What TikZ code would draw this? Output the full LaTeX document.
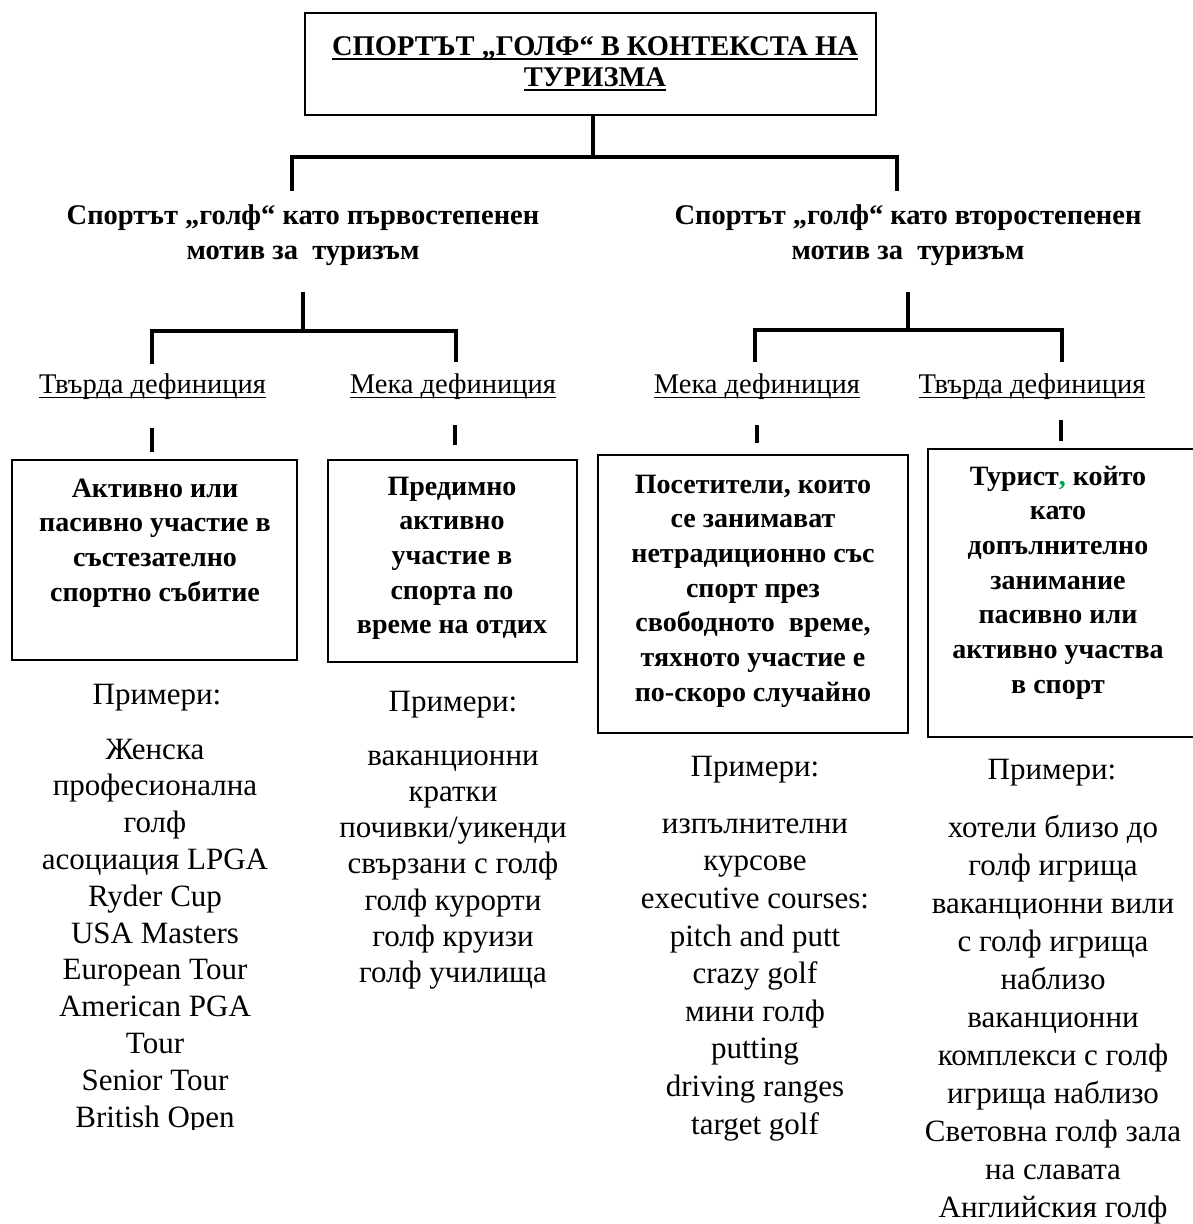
\documentclass[tikz,border=0pt]{standalone}
\usepackage{fontspec}
\setmainfont{Liberation Serif}[BoldFont={Liberation Serif Bold}]
\definecolor{commagreen}{RGB}{0,160,80}
\newcommand\myul[1]{\setbox0\hbox{#1}\rlap{\rule[-5pt]{\wd0}{1.8pt}}\box0}
\begin{document}
\begin{tikzpicture}[x=1pt,y=-1pt,
  conn/.style={line width=4pt},
  framebox/.style={draw, line width=1.8pt, inner sep=0pt},
  ttl/.style={font=\fontsize{28.5}{31}\selectfont\bfseries, align=center, anchor=north, inner sep=0pt},
  head/.style={font=\fontsize{28.5}{35}\selectfont\bfseries, align=center, anchor=north, inner sep=0pt},
  lab/.style={font=\fontsize{28.5}{33}\selectfont, align=center, anchor=north, inner sep=0pt},
  btxt/.style={font=\fontsize{28}{34.7}\selectfont\bfseries, align=center, anchor=north, inner sep=0pt},
  lst/.style={font=\fontsize{31}{#1}\selectfont, align=center, anchor=north, inner sep=0pt}
]
\useasboundingbox (0,0) rectangle (1193,1224);

% title
\node[framebox, minimum width=571pt, minimum height=102pt] (tbox) at (590.5,64) {};
\node[ttl] (ttext) at (595,33.3) {\strut\myul{СПОРТЪТ „ГОЛФ“ В КОНТЕКСТА НА}\\\myul{ТУРИЗМА}};

% headings
\node[head] (h1) at (303,199.5) {\strut Спортът „голф“ като първостепенен\\мотив за\ \ туризъм};
\node[head] (h2) at (908,199.5) {\strut Спортът „голф“ като второстепенен\\мотив за\ \ туризъм};

% labels
\node[lab] (l1) at (152.5,370) {\strut\myul{Твърда дефиниция}};
\node[lab] (l2) at (453,370) {\strut\myul{Мека дефиниция}};
\node[lab] (l3) at (757,370) {\strut\myul{Мека дефиниция}};
\node[lab] (l4) at (1032,370) {\strut\myul{Твърда дефиниция}};

% boxes
\node[framebox, minimum width=285pt, minimum height=200pt] (b1) at (154.5,560) {};
\node[framebox, minimum width=249pt, minimum height=202pt] (b2) at (452.5,561) {};
\node[framebox, minimum width=310pt, minimum height=278pt] (b3) at (753,594) {};
\node[framebox, minimum width=269pt, minimum height=288pt] (b4) at (1062.5,593) {};

\node[btxt] (t1) at (155,472.7) {\strut Активно или\\пасивно участие в\\състезателно\\спортно събитие};
\node[btxt] (t2) at (452,470.7) {\strut Предимно\\активно\\участие в\\спорта по\\време на отдих};
\node[btxt] (t3) at (753,468.7) {\strut Посетители, които\\се занимават\\нетрадиционно със\\спорт през\\свободното\ \ време,\\тяхното участие е\\по-скоро случайно};
\node[btxt] (t4) at (1058,460.7) {\strut Турист\textcolor{commagreen}{,} който\\като\\допълнително\\занимание\\пасивно или\\активно участва\\в спорт};

% examples
\node[lst=33] (p1) at (157,680.9) {\strut Примери:};
\node[lst=33] (p2) at (453,687.9) {\strut Примери:};
\node[lst=33] (p3) at (755,752.9) {\strut Примери:};
\node[lst=33] (p4) at (1052,755.9) {\strut Примери:};

\begin{scope}
\clip (0,0) rectangle (600,1129);
\node[lst=36.8] (e1) at (155,733.2) {\strut Женска\\професионална\\голф\\асоциация LPGA\\Ryder Cup\\USA Masters\\European Tour\\American PGA\\Tour\\Senior Tour\\British Open};
\end{scope}
\node[lst=36.2] (e2) at (453,739.7) {\strut ваканционни\\кратки\\почивки/уикенди\\свързани с голф\\голф курорти\\голф круизи\\голф училища};
\node[lst=37.6] (e3) at (755,806.7) {\strut изпълнителни\\курсове\\executive courses:\\pitch and putt\\crazy golf\\мини голф\\putting\\driving ranges\\target golf};
\node[lst=38] (e4) at (1053,810.4) {\strut хотели близо до\\голф игрища\\ваканционни вили\\с голф игрища\\наблизо\\ваканционни\\комплекси с голф\\игрища наблизо\\Световна голф зала\\на славата\\Английския голф};

% connectors
\coordinate (j0) at (593,157);
\coordinate (jl) at (292,157);
\coordinate (jr) at (897,157);
\coordinate (jld) at (292,191);
\coordinate (jrd) at (897,191);
\draw[conn] (j0 |- tbox.south) -- (j0);
\draw[conn] (jld) -- (jl) -- (jr) -- (jrd);

\coordinate (k0) at (303,292);
\coordinate (k1) at (303,331);
\coordinate (kl) at (152,331);
\coordinate (kld) at (152,364);
\coordinate (kr) at (456,331);
\coordinate (krd) at (456,362);
\draw[conn] (k0) -- (k1);
\draw[conn] (kld) -- (kl) -- (kr) -- (krd);

\coordinate (m0) at (908,292);
\coordinate (m1) at (908,330);
\coordinate (ml) at (755,330);
\coordinate (mld) at (755,362);
\coordinate (mr) at (1062,330);
\coordinate (mrd) at (1062,362);
\draw[conn] (m0) -- (m1);
\draw[conn] (mld) -- (ml) -- (mr) -- (mrd);

% ticks
\coordinate (s1a) at (152,428); \coordinate (s1b) at (152,452);
\coordinate (s2a) at (455,425); \coordinate (s2b) at (455,445);
\coordinate (s3a) at (757,425); \coordinate (s3b) at (757,443);
\coordinate (s4a) at (1061,420); \coordinate (s4b) at (1061,441);
\draw[conn] (s1a) -- (s1b);
\draw[conn] (s2a) -- (s2b);
\draw[conn] (s3a) -- (s3b);
\draw[conn] (s4a) -- (s4b);
\end{tikzpicture}
\end{document}
